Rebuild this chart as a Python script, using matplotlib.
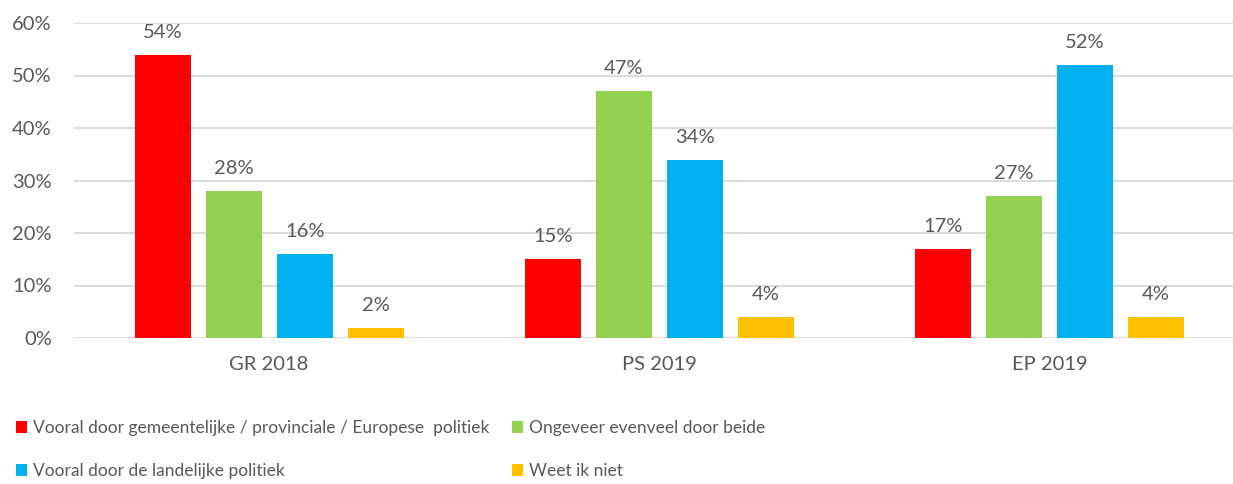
import numpy as np
import matplotlib
matplotlib.use("Agg")
import matplotlib.pyplot as plt

# data
groups = ["GR 2018", "PS 2019", "EP 2019"]
series_names = [
    "Vooral door gemeentelijke / provinciale / Europese  politiek",
    "Ongeveer evenveel door beide",
    "Vooral door de landelijke politiek",
    "Weet ik niet",
]
lokaal = [54, 15, 17]
beide = [28, 47, 27]
landelijk = [16, 34, 52]
weet_niet = [2, 4, 4]
y_ticks = [0, 10, 20, 30, 40, 50, 60]

colors = ["#FF0000", "#92D050", "#00B0F0", "#FFC000"]
text_grey = "#595959"

plt.rcParams['font.family'] = ['Lato', 'DejaVu Sans']

fig = plt.figure(figsize=(12.33, 4.84), dpi=100)
ax = fig.add_axes([74 / 1233, 1 - 338 / 484, 1 - 74 / 1233, (338 - 23) / 484])

x = np.arange(len(groups))
width = 0.1436
step = 0.182
all_series = [lokaal, beide, landelijk, weet_niet]
handles = []
for i, vals in enumerate(all_series):
    pos = x + (i - 1.5) * step
    bars = ax.bar(pos, vals, width=width, color=colors[i], zorder=3, label=series_names[i])
    handles.append(bars)
    for b, v in zip(bars, vals):
        ax.annotate(f"{v}%", (b.get_x() + b.get_width() / 2, v),
                    xytext=(0, 10), textcoords="offset points",
                    ha="center", va="bottom", fontsize=14.5, color=text_grey)

ax.set_xlim(-0.5, 2.47)
ax.set_ylim(0, 60)
ax.set_yticks(y_ticks)
ax.set_yticklabels([f"{t}%" for t in y_ticks])
ax.set_xticks(x)
ax.set_xticklabels(groups)
ax.tick_params(axis="both", length=0, labelsize=14.5, colors=text_grey)
ax.tick_params(axis="x", pad=13)
ax.tick_params(axis="y", pad=16)
ax.grid(axis="y", color="#D9D9D9", linewidth=1.3, zorder=0)
for s in ax.spines.values():
    s.set_visible(False)

# legend: two columns, filled column by column
order = [0, 2, 1, 3]
leg = fig.legend([handles[i] for i in order], [series_names[i] for i in order],
                 ncol=2, loc="lower left", bbox_to_anchor=(0.0, -0.022),
                 frameon=False, fontsize=12.5, handlelength=0.65, handleheight=0.65,
                 handletextpad=0.35, columnspacing=1.3, labelspacing=1.55,
                 labelcolor=text_grey)

fig.savefig("out.png", dpi=100)
